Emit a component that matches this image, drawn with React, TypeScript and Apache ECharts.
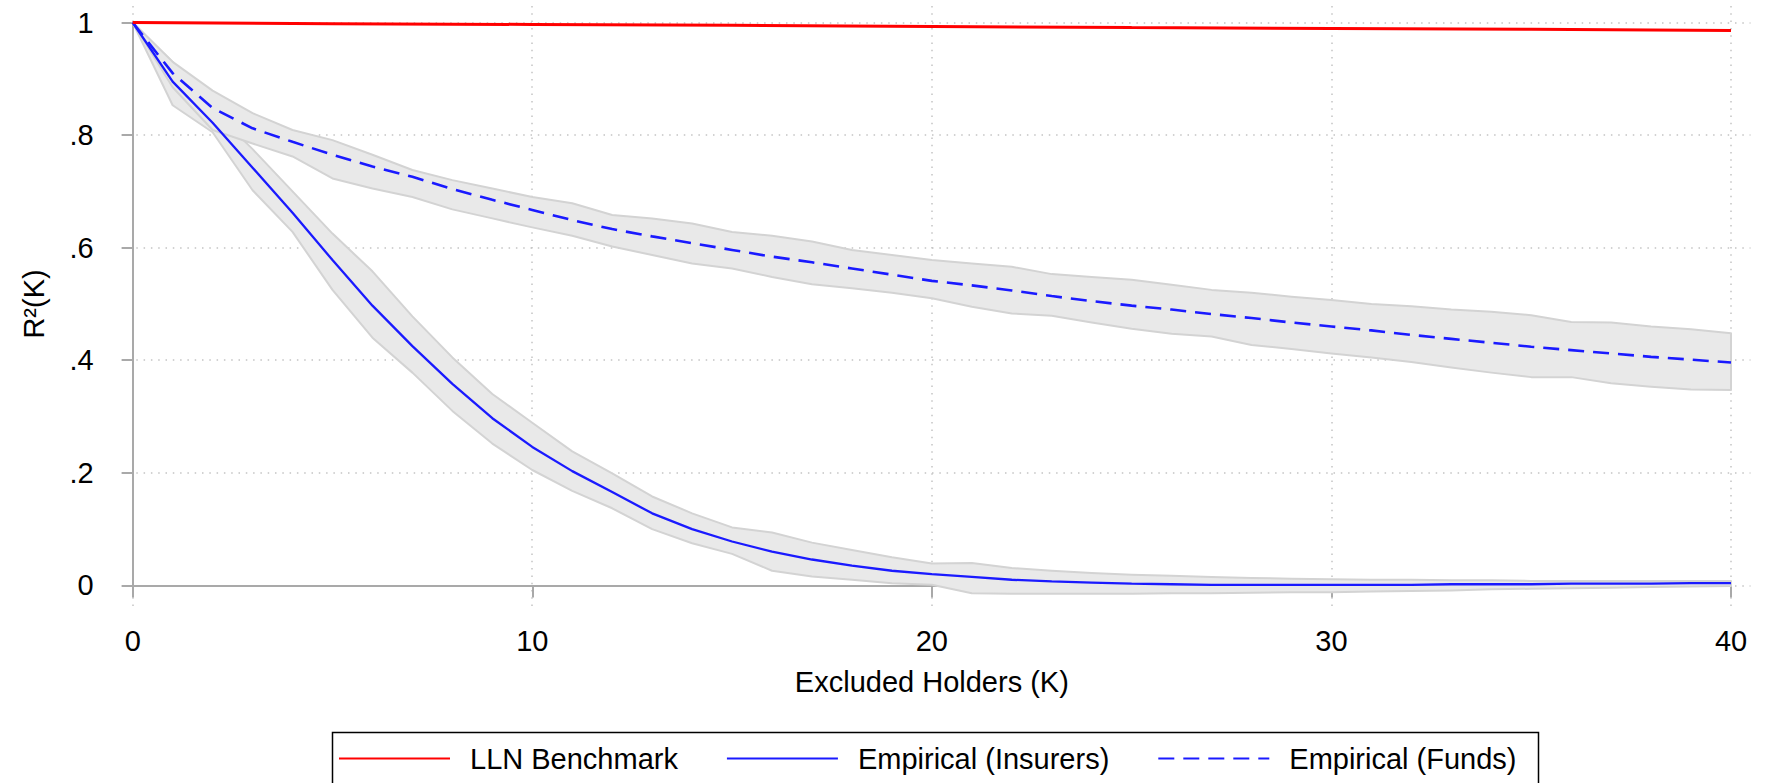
import React, { useEffect, useRef } from "react";
import * as echarts from "echarts";

const K = [0, 1, 2, 3, 4, 5, 6, 7, 8, 9, 10, 11, 12, 13, 14, 15, 16, 17, 18, 19, 20, 21, 22, 23, 24, 25, 26, 27, 28, 29, 30, 31, 32, 33, 34, 35, 36, 37, 38, 39, 40];

const insMean = [1.0, 0.895, 0.822, 0.742, 0.662, 0.578, 0.497, 0.425, 0.358, 0.297, 0.246, 0.203, 0.166, 0.128, 0.1, 0.078, 0.06, 0.046, 0.035, 0.026, 0.02, 0.015, 0.01, 0.007, 0.005, 0.003, 0.002, 0.001, 0.001, 0.001, 0.001, 0.001, 0.001, 0.002, 0.002, 0.002, 0.003, 0.003, 0.003, 0.004, 0.004];
const insHi = [1.0, 0.93, 0.845, 0.775, 0.7, 0.625, 0.558, 0.478, 0.405, 0.34, 0.289, 0.238, 0.199, 0.158, 0.128, 0.103, 0.094, 0.076, 0.063, 0.05, 0.039, 0.04, 0.031, 0.026, 0.022, 0.019, 0.017, 0.015, 0.013, 0.012, 0.011, 0.01, 0.01, 0.009, 0.009, 0.008, 0.008, 0.008, 0.008, 0.008, 0.008];
const insLo = [1.0, 0.853, 0.805, 0.702, 0.628, 0.525, 0.44, 0.378, 0.31, 0.252, 0.205, 0.168, 0.137, 0.1, 0.075, 0.056, 0.026, 0.016, 0.01, 0.004, 0.001, -0.014, -0.015, -0.015, -0.015, -0.015, -0.014, -0.014, -0.013, -0.012, -0.012, -0.011, -0.01, -0.009, -0.007, -0.006, -0.005, -0.004, -0.003, -0.002, -0.001];

const fundMean = [1.0, 0.91, 0.848, 0.812, 0.788, 0.765, 0.744, 0.726, 0.704, 0.685, 0.667, 0.649, 0.633, 0.62, 0.608, 0.596, 0.584, 0.574, 0.563, 0.552, 0.541, 0.533, 0.524, 0.514, 0.505, 0.497, 0.49, 0.482, 0.475, 0.467, 0.46, 0.453, 0.445, 0.438, 0.431, 0.424, 0.418, 0.412, 0.406, 0.401, 0.396];
const fundHi = [1.0, 0.93, 0.879, 0.839, 0.809, 0.791, 0.765, 0.738, 0.72, 0.705, 0.69, 0.679, 0.658, 0.652, 0.643, 0.628, 0.621, 0.611, 0.596, 0.587, 0.578, 0.572, 0.566, 0.553, 0.548, 0.543, 0.534, 0.525, 0.52, 0.513, 0.507, 0.5, 0.496, 0.49, 0.486, 0.48, 0.468, 0.467, 0.46, 0.455, 0.448];
const fundLo = [1.0, 0.885, 0.809, 0.785, 0.762, 0.723, 0.705, 0.69, 0.668, 0.652, 0.636, 0.621, 0.602, 0.587, 0.572, 0.563, 0.548, 0.535, 0.528, 0.52, 0.51, 0.495, 0.483, 0.479, 0.467, 0.456, 0.447, 0.442, 0.427, 0.42, 0.412, 0.405, 0.397, 0.387, 0.378, 0.37, 0.37, 0.359, 0.353, 0.348, 0.347];

const llnK = [0, 5, 10, 15, 20, 25, 30, 35, 40];
const llnVals = [1.0, 0.998, 0.9965, 0.995, 0.993, 0.991, 0.9895, 0.988, 0.986];

const xTickValues = [0, 10, 20, 30, 40];
const yTickValues = [0, 0.2, 0.4, 0.6, 0.8, 1];
const yTickLabels = ["0", ".2", ".4", ".6", ".8", "1"];

const seriesNames = ["LLN Benchmark", "Empirical (Insurers)", "Empirical (Funds)"];

const FONT = "'Liberation Sans', Arial, Helvetica, sans-serif";
const BAND_FILL = "#e9e9e9";
const BAND_EDGE = "#d3d3d3";
const BLUE = "#1a1aff";
const RED = "#ff0000";
const AXIS_GRAY = "#a9a9a9";
const GRID_GRAY = "#c4c4c4";

function pairs(xs: number[], ys: number[]) {
  return xs.map((x, i) => [x, ys[i]]);
}

function bandSeries(name: string, hi: number[], lo: number[]) {
  return {
    name,
    type: "custom",
    xAxisIndex: 0,
    yAxisIndex: 0,
    silent: true,
    clip: false,
    z: 1,
    data: K.map((k, i) => [k, lo[i], hi[i]]),
    encode: { x: 0, y: [1, 2] },
    renderItem: (params: any, api: any) => {
      if (params.dataIndex !== 0) return null;
      const up = K.map((k, i) => api.coord([k, hi[i]]));
      const down = K.map((k, i) => api.coord([k, lo[i]])).reverse();
      return {
        type: "polygon",
        shape: { points: [...up, ...down] },
        style: { fill: BAND_FILL, stroke: BAND_EDGE, lineWidth: 2, lineJoin: "round" },
        silent: true,
      };
    },
  };
}

export default function App() {
  const ref = useRef<HTMLDivElement>(null);
  useEffect(() => {
    document.body.style.margin = "0";
    if (!ref.current) return;
    const chart = echarts.init(ref.current, undefined, { renderer: "svg" });

    const option: any = {
      animation: false,
      backgroundColor: "#ffffff",
      textStyle: { fontFamily: FONT },
      grid: [
        { left: 132.7, right: 34, top: 22.5, bottom: 197.6, containLabel: false },
        { left: 121.7, right: 14.5, top: 6, bottom: 176, containLabel: false },
      ],
      xAxis: [
        {
          type: "value",
          gridIndex: 0,
          min: 0,
          max: 40,
          interval: 10,
          offset: 27,
          axisLine: { show: true, lineStyle: { color: AXIS_GRAY, width: 2 } },
          axisTick: { show: true, inside: false, length: 12, lineStyle: { color: AXIS_GRAY, width: 2 } },
          axisLabel: { show: true, color: "#000", fontSize: 29, fontFamily: FONT, margin: 14 },
          splitLine: { show: false },
          name: "Excluded Holders (K)",
          nameLocation: "middle",
          nameGap: 55,
          nameTextStyle: { color: "#000", fontSize: 29, fontFamily: FONT },
        },
        {
          type: "value",
          gridIndex: 1,
          min: -0.275,
          max: 40.49,
          axisLine: { show: false },
          axisTick: { show: false, customValues: xTickValues },
          axisLabel: { show: false, customValues: xTickValues },
          splitLine: { show: true, lineStyle: { color: GRID_GRAY, width: 1.5, type: [1.5, 5.8] } },
        },
      ],
      yAxis: [
        {
          type: "value",
          gridIndex: 0,
          min: 0,
          max: 1,
          interval: 0.2,
          offset: 18,
          axisLine: { show: true, lineStyle: { color: AXIS_GRAY, width: 2 } },
          axisTick: { show: true, inside: false, length: 11, lineStyle: { color: AXIS_GRAY, width: 2 } },
          axisLabel: {
            show: true,
            color: "#000",
            fontSize: 29,
            fontFamily: FONT,
            margin: 21,
            formatter: (v: number) => {
              const idx = yTickValues.findIndex((t) => Math.abs(t - v) < 1e-9);
              return idx >= 0 ? yTickLabels[idx] : "";
            },
          },
          splitLine: { show: false },
          name: "R²(K)",
          nameLocation: "middle",
          nameGap: 66,
          nameRotate: 90,
          nameTextStyle: { color: "#000", fontSize: 29, fontFamily: FONT },
        },
        {
          type: "value",
          gridIndex: 1,
          min: -0.0384,
          max: 1.0293,
          axisLine: { show: false },
          axisTick: { show: false, customValues: yTickValues },
          axisLabel: { show: false, customValues: yTickValues },
          splitLine: { show: true, lineStyle: { color: GRID_GRAY, width: 1.5, type: [1.5, 5.8] } },
        },
      ],
      legend: {
        show: true,
        data: seriesNames,
        left: 338,
        top: 744,
        orient: "horizontal",
        padding: 0,
        itemWidth: 111,
        itemHeight: 14,
        itemGap: 48,
        itemStyle: { opacity: 0 },
        textStyle: { color: "#000", fontSize: 29, fontFamily: FONT, padding: [0, 0, 0, 15] },
      },
      graphic: [
        {
          type: "rect",
          left: 330,
          top: 730,
          shape: { x: 0, y: 0, width: 1206, height: 70 },
          style: { fill: "none", stroke: "#000", lineWidth: 1.5 },
          silent: true,
        },
      ],
      series: [
        bandSeries("insBand", insHi, insLo),
        bandSeries("fundBand", fundHi, fundLo),
        {
          name: seriesNames[1],
          type: "line",
          xAxisIndex: 0,
          yAxisIndex: 0,
          data: pairs(K, insMean),
          symbol: "none",
          lineStyle: { color: BLUE, width: 2.3, type: "solid" },
          itemStyle: { color: BLUE },
          z: 3,
        },
        {
          name: seriesNames[2],
          type: "line",
          xAxisIndex: 0,
          yAxisIndex: 0,
          data: pairs(K, fundMean),
          symbol: "none",
          lineStyle: { color: BLUE, width: 2.6, type: [16, 9] },
          itemStyle: { color: BLUE },
          z: 3,
        },
        {
          name: seriesNames[0],
          type: "line",
          xAxisIndex: 0,
          yAxisIndex: 0,
          data: pairs(llnK, llnVals),
          symbol: "none",
          lineStyle: { color: RED, width: 3 },
          itemStyle: { color: RED },
          z: 4,
        },
      ],
    };
    chart.setOption(option);
    return () => chart.dispose();
  }, []);
  return <div ref={ref} style={{ width: 1765, height: 783 }} />;
}
